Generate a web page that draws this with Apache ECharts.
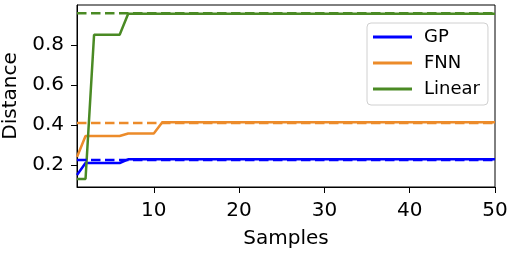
<!DOCTYPE html>
<html>
<head>
<meta charset="utf-8">
<script src="https://cdn.jsdelivr.net/npm/echarts@6/dist/echarts.min.js"></script>
<style>html,body{margin:0;padding:0;background:#fff}#c{width:509px;height:254px}</style>
</head>
<body>
<div id="c"></div>
<script>
const samples = [1,2,3,4,5,6,7,8,9,10,11,12,13,14,15,16,17,18,19,20,21,22,23,24,25,26,27,28,29,30,31,32,33,34,35,36,37,38,39,40,41,42,43,44,45,46,47,48,49,50];
const gp = [0.15,0.21,0.21,0.21,0.21,0.21,0.228,0.228,0.228,0.228,0.228,0.228,0.228,0.228,0.228,0.228,0.228,0.228,0.228,0.228,0.228,0.228,0.228,0.228,0.228,0.228,0.228,0.228,0.228,0.228,0.228,0.228,0.228,0.228,0.228,0.228,0.228,0.228,0.228,0.228,0.228,0.228,0.228,0.228,0.228,0.228,0.228,0.228,0.228,0.228];
const fnn = [0.24,0.345,0.345,0.345,0.345,0.345,0.357,0.357,0.357,0.357,0.413,0.413,0.413,0.413,0.413,0.413,0.413,0.413,0.413,0.413,0.413,0.413,0.413,0.413,0.413,0.413,0.413,0.413,0.413,0.413,0.413,0.413,0.413,0.413,0.413,0.413,0.413,0.413,0.413,0.413,0.413,0.413,0.413,0.413,0.413,0.413,0.413,0.413,0.413,0.413];
const linear = [0.13,0.13,0.85,0.85,0.85,0.85,0.955,0.955,0.955,0.955,0.955,0.955,0.955,0.955,0.955,0.955,0.955,0.955,0.955,0.955,0.955,0.955,0.955,0.955,0.955,0.955,0.955,0.955,0.955,0.955,0.955,0.955,0.955,0.955,0.955,0.955,0.955,0.955,0.955,0.955,0.955,0.955,0.955,0.955,0.955,0.955,0.955,0.955,0.955,0.955];
const refGP = 0.225, refFNN = 0.41, refLinear = 0.958;
const xTicks = [10,20,30,40,50];
const yTicks = [0.2,0.4,0.6,0.8];
const names = ['GP','FNN','Linear'];
const colors = ['#0000ff','#ec8b2a','#4a8a24'];

const pairs = a => a.map((v,i)=>[samples[i], v]);
const ref = v => [[samples[0], v],[samples[samples.length-1], v]];
const F = 'DejaVu Sans';
const solid = (name, data, color) => ({type:'line', name, data:pairs(data), showSymbol:false, symbol:'none', lineStyle:{width:2.5, color}, itemStyle:{color}, animation:false, z:3});
const dashed = (name, v, color) => ({type:'line', name, data:ref(v), showSymbol:false, symbol:'none', lineStyle:{width:2.5, color, type:[9.5,4.5]}, itemStyle:{color}, animation:false, z:4});

const chart = echarts.init(document.getElementById('c'), null, {renderer:'canvas'});
chart.setOption({
  animation:false,
  backgroundColor:'#fff',
  grid:{left:77, right:14, top:5, bottom:67, show:true, borderColor:'#000', borderWidth:1, containLabel:false, outerBoundsMode:'none'},
  xAxis:{type:'value', min:1, max:50, name:'Samples', nameLocation:'middle', nameGap:42,
    nameTextStyle:{fontFamily:F, fontSize:20, color:'#000'},
    axisLine:{lineStyle:{color:'#000', width:1}},
    axisTick:{show:true, length:6, lineStyle:{color:'#000'}, customValues:xTicks},
    axisLabel:{fontFamily:F, fontSize:20, color:'#000', margin:14, customValues:xTicks},
    splitLine:{show:false}},
  yAxis:{type:'value', min:0.09, max:0.999, name:'Distance', nameLocation:'middle', nameGap:56,
    nameTextStyle:{fontFamily:F, fontSize:20, color:'#000'},
    axisLine:{show:true, lineStyle:{color:'#000', width:1}},
    axisTick:{show:true, length:6, lineStyle:{color:'#000'}, customValues:yTicks},
    axisLabel:{fontFamily:F, fontSize:20, color:'#000', margin:13, customValues:yTicks, formatter:v=>v.toFixed(1)},
    splitLine:{show:false}},
  legend:{data:names, left:367, top:23, orient:'vertical', backgroundColor:'rgba(255,255,255,0.8)',
    borderColor:'#d0d0d0', borderWidth:1, borderRadius:4, padding:[4,8,6,6], itemGap:6,
    itemWidth:39, itemHeight:3, icon:'rect',
    textStyle:{fontFamily:F, fontSize:18, color:'#000', lineHeight:20, padding:[0,0,0,7]}},
  series:[
    solid('GP', gp, colors[0]), dashed('GP ref', refGP, colors[0]),
    solid('FNN', fnn, colors[1]), dashed('FNN ref', refFNN, colors[1]),
    solid('Linear', linear, colors[2]), dashed('Linear ref', refLinear, colors[2])
  ]
});
</script>
</body>
</html>
